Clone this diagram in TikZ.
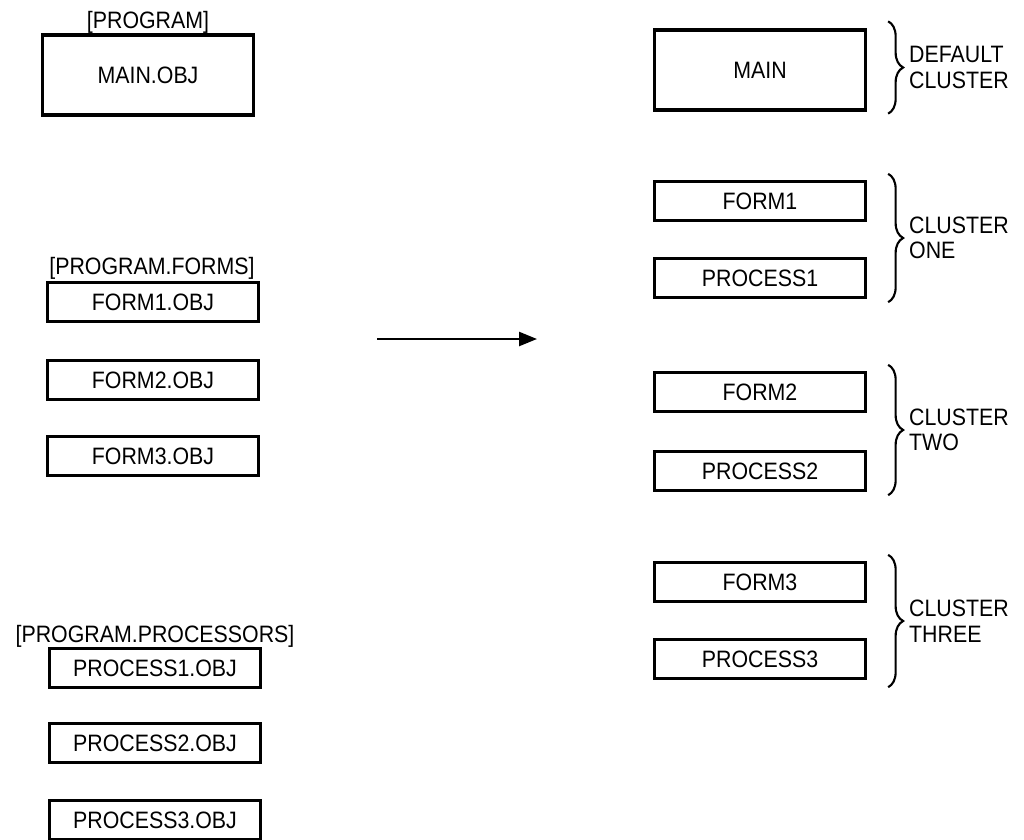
\documentclass[tikz,border=0pt]{standalone}
\usepackage{fontspec}
\setmainfont{Liberation Sans}[FakeStretch=0.9]
\usepackage{tikz}
\usetikzlibrary{arrows.meta,decorations.pathreplacing}
\tikzstyle{objbox} = [draw=black, fill=white, line width=1.9pt,
    rectangle, inner sep=0pt, minimum width=4.22cm, minimum height=0.78cm]
\tikzstyle{bigbox} = [objbox, minimum height=1.6cm]
\tikzstyle{dirname} = [inner sep=0pt]
\tikzstyle{clusterbrace} = [decorate, decoration={brace, amplitude=0.3cm}, line width=1.2pt]
\tikzstyle{clustername} = [align=left, anchor=west, inner sep=0pt]

\begin{document}
\begin{tikzpicture}[x=0.02cm, y=-0.02cm, font=\fontsize{13.5}{14.5}\selectfont]
                \useasboundingbox (0,0) rectangle (1024,839);
                \node[dirname] (prog) at (148,22) {[PROGRAM]};
                \node[bigbox] (mainobj) at (148,75) {MAIN.OBJ};
                \node[dirname] (forms) at (152,268) {[PROGRAM.FORMS]};
                \node[objbox] (form1obj) at (153,302) {FORM1.OBJ};
                \node[objbox] (form2obj) at (153,380) {FORM2.OBJ};
                \node[objbox] (form3obj) at (153,456) {FORM3.OBJ};
                \node[dirname] (procs) at (155,636) {[PROGRAM.PROCESSORS]};
                \node[objbox] (proc1obj) at (155,668) {PROCESS1.OBJ};
                \node[objbox] (proc2obj) at (155,743) {PROCESS2.OBJ};
                \node[objbox] (proc3obj) at (155,820) {PROCESS3.OBJ};

                \coordinate (linkfrom) at (377,339);
                \coordinate (linkto) at (537,339);
                \draw[line width=1.4pt, -{Triangle[length=0.36cm, width=0.28cm]}] (linkfrom) -- (linkto);

                \node[bigbox] (main) at (760,70) {MAIN};
                \node[objbox] (form1) at (760,201) {FORM1};
                \node[objbox] (proc1) at (760,278) {PROCESS1};
                \node[objbox] (form2) at (760,392) {FORM2};
                \node[objbox] (proc2) at (760,471) {PROCESS2};
                \node[objbox] (form3) at (760,582) {FORM3};
                \node[objbox] (proc3) at (760,659) {PROCESS3};

                \draw[clusterbrace] ([xshift=0.42cm,yshift=0.14cm]main.north east) -- ([xshift=0.42cm,yshift=-0.04cm]main.south east)
                    node[clustername, midway, right=0.4cm] {DEFAULT\\CLUSTER};
                \draw[clusterbrace] ([xshift=0.42cm,yshift=0.12cm]form1.north east) -- ([xshift=0.42cm,yshift=-0.06cm]proc1.south east)
                    node[clustername, midway, right=0.4cm] {CLUSTER\\ONE};
                \draw[clusterbrace] ([xshift=0.42cm,yshift=0.12cm]form2.north east) -- ([xshift=0.42cm,yshift=-0.06cm]proc2.south east)
                    node[clustername, midway, right=0.4cm] {CLUSTER\\TWO};
                \draw[clusterbrace] ([xshift=0.42cm,yshift=0.12cm]form3.north east) -- ([xshift=0.42cm,yshift=-0.14cm]proc3.south east)
                    node[clustername, midway, right=0.4cm] {CLUSTER\\THREE};
            \end{tikzpicture}
\end{document}
